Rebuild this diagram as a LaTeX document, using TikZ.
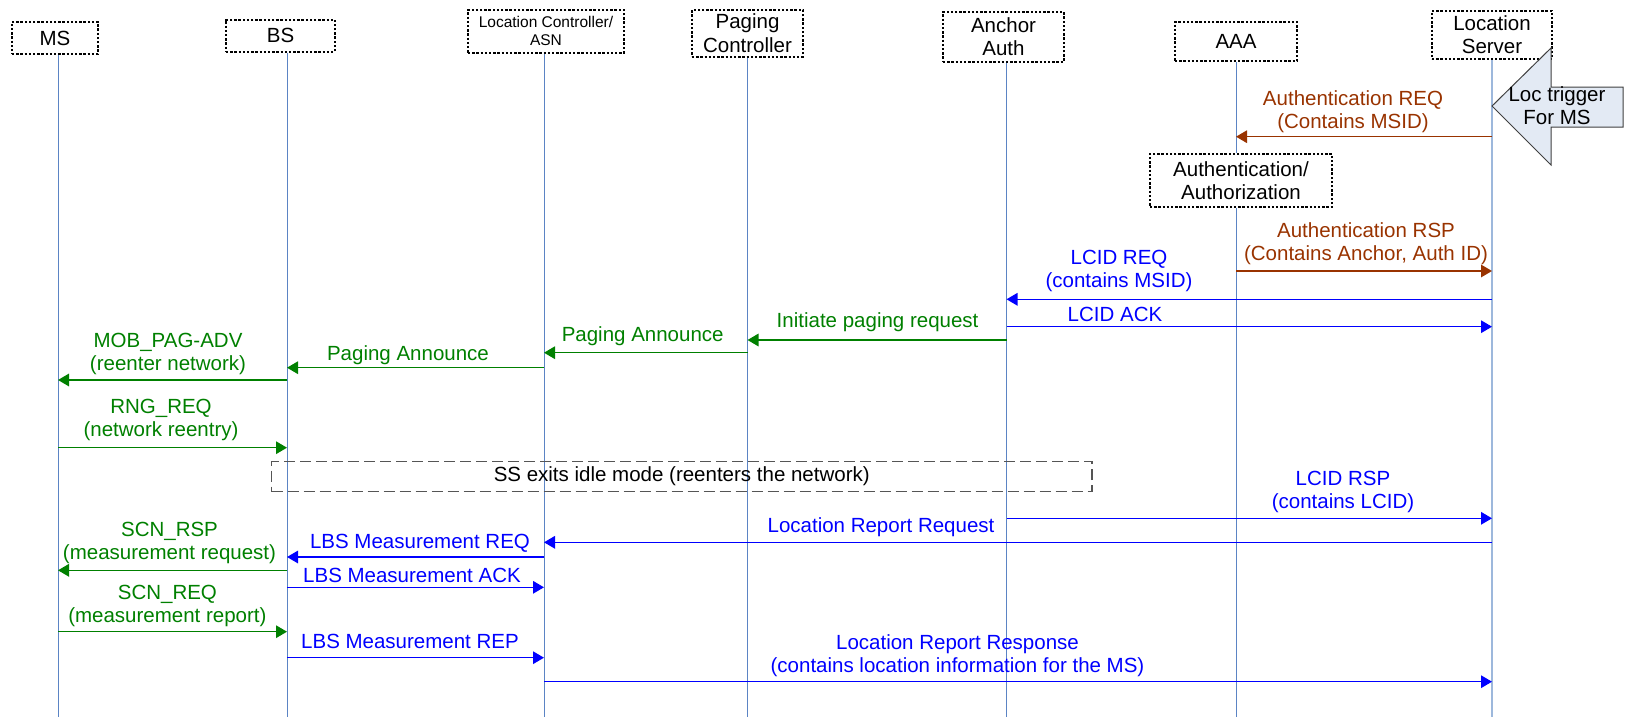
\documentclass[tikz,border=0pt]{standalone}
\usepackage{fontspec}
\setmainfont{Liberation Sans}
\usetikzlibrary{arrows.meta}
\definecolor{brn}{HTML}{993300}
\definecolor{grn}{HTML}{008000}
\definecolor{blu}{HTML}{0000FF}
\definecolor{lifec}{HTML}{5B84C4}
\definecolor{lifels}{HTML}{9DB8DC}
\definecolor{trig}{HTML}{E3EAF4}
\definecolor{dgray}{HTML}{555555}
\begin{document}
\begin{tikzpicture}[x=1pt,y=-1pt,
  actor/.style={draw=black, line width=2pt, dash pattern=on 2.4pt off 1.8pt, fill=white,
    inner sep=0pt, align=center, font=\fontsize{20.5}{23.3}\selectfont},
  lifeln/.style={draw=lifec, line width=1pt},
  msg/.style={line width=1.5pt, -{Triangle[length=11pt,width=12.5pt]}},
  lbl/.style={inner sep=0pt, align=center, font=\fontsize{20.5}{23.3}\selectfont},
]
\useasboundingbox (0,0) rectangle (1627,720);

% actors
\node[actor, minimum width=86pt, minimum height=32pt] (MS) at (55,38) {MS};
\node[actor, minimum width=109pt, minimum height=32pt] (BS) at (280.5,35.5) {BS};
\node[actor, minimum width=156pt, minimum height=42.5pt, font=\fontsize{15.5}{17.7}\selectfont] (LC) at (546,31.25) {Location Controller/\\ASN};
\node[actor, minimum width=111pt, minimum height=46.5pt] (PC) at (747.5,33.25) {Paging\\Controller};
\node[actor, minimum width=121pt, minimum height=49.5pt] (AA) at (1003.5,36.75) {Anchor\\Auth};
\node[actor, minimum width=122pt, minimum height=39pt] (AAA) at (1236,41.5) {AAA};
\node[actor, minimum width=120pt, minimum height=48pt] (LS) at (1492,35) {Location\\Server};
\node[actor, minimum width=182pt, minimum height=53pt] (Auth) at (1241,180.5) {Authentication/\\Authorization};

% lifeline ends
\coordinate (MSe) at (58,717);
\coordinate (BSe) at (287,717);
\coordinate (LCe) at (544,717);
\coordinate (PCe) at (747.5,717);
\coordinate (AAe) at (1006.5,717);
\coordinate (AAAe) at (1236,717);
\coordinate (LSe) at (1492,717);

\draw[lifeln] (MS.south -| MSe) -- (MSe);
\draw[lifeln] (BS.south -| BSe) -- (BSe);
\draw[lifeln] (LC.south -| LCe) -- (LCe);
\draw[lifeln] (PC.south -| PCe) -- (PCe);
\draw[lifeln] (AA.south -| AAe) -- (AAe);
\draw[lifeln] (AAA.south) -- (Auth.north -| AAAe);
\draw[lifeln] (Auth.south -| AAAe) -- (AAAe);
\draw[draw=lifels, line width=2.2pt] (LS.south) -- (LSe);

% Loc trigger block arrow
\draw[draw=black!75, fill=trig, line width=1pt] (1492,106) -- (1551,48) -- (1551,87) -- (1623,87)
  -- (1623,127) -- (1551,127) -- (1551,165) -- cycle;
\node[lbl] (trigtxt) at (1557,106) {Loc trigger\\For MS};

% idle mode box
\node[draw=dgray, dash pattern=on 11pt off 5pt, line width=1.5pt, minimum width=820.5pt,
  minimum height=30pt, inner sep=0pt, font=\fontsize{20.5}{23.3}\selectfont] (idle) at (681.75,476.5)
  {SS exits idle mode (reenters the network)};

% messages
\draw[msg, brn] (LSe |- 0,136.7) -- (AAAe |- 0,136.7);
\node[lbl, text=brn] (m1) at (1353,111.5) {Authentication REQ\\(Contains MSID)};

\draw[msg, brn] (AAAe |- 0,271) -- (LSe |- 0,271);
\node[lbl, text=brn] (m2) at (1366,243.5) {Authentication RSP\\(Contains Anchor, Auth ID)};

\draw[msg, blu] (LSe |- 0,299.3) -- (AAe |- 0,299.3);
\node[lbl, text=blu] (m3) at (1119,271) {LCID REQ\\(contains MSID)};

\draw[msg, blu] (AAe |- 0,326.7) -- (LSe |- 0,326.7);
\node[lbl, text=blu] (m4) at (1115,314) {LCID ACK};

\draw[msg, grn] (AAe |- 0,340) -- (PCe |- 0,340);
\node[lbl, text=grn] (m5) at (877.6,322) {Initiate paging request};

\draw[msg, grn] (PCe |- 0,352.7) -- (LCe |- 0,352.7);
\node[lbl, text=grn] (m6) at (642.7,336) {Paging Announce};

\draw[msg, grn] (LCe |- 0,367.7) -- (BSe |- 0,367.7);
\node[lbl, text=grn] (m7) at (408,355) {Paging Announce};

\draw[msg, grn] (BSe |- 0,380) -- (MSe |- 0,380);
\node[lbl, text=grn] (m8) at (168,354) {MOB\_PAG-ADV\\(reenter network)};

\draw[msg, grn] (MSe |- 0,447.7) -- (BSe |- 0,447.7);
\node[lbl, text=grn] (m9) at (161,420) {RNG\_REQ\\(network reentry)};

\draw[msg, blu] (AAe |- 0,518.3) -- (LSe |- 0,518.3);
\node[lbl, text=blu] (m10) at (1343,492) {LCID RSP\\(contains LCID)};

\draw[msg, blu] (LSe |- 0,542.3) -- (LCe |- 0,542.3);
\node[lbl, text=blu] (m11) at (881,527.5) {Location Report Request};

\draw[msg, blu] (LCe |- 0,557) -- (BSe |- 0,557);
\node[lbl, text=blu] (m12) at (420,543) {LBS Measurement REQ};

\draw[msg, grn] (BSe |- 0,570.3) -- (MSe |- 0,570.3);
\node[lbl, text=grn] (m13) at (169.5,543) {SCN\_RSP\\(measurement request)};

\draw[msg, blu] (BSe |- 0,587.3) -- (LCe |- 0,587.3);
\node[lbl, text=blu] (m14) at (412,575.5) {LBS Measurement ACK};

\draw[msg, grn] (MSe |- 0,631.7) -- (BSe |- 0,631.7);
\node[lbl, text=grn] (m15) at (167.4,606) {SCN\_REQ\\(measurement report)};

\draw[msg, blu] (BSe |- 0,657.7) -- (LCe |- 0,657.7);
\node[lbl, text=blu] (m16) at (410,641.5) {LBS Measurement REP};

\draw[msg, blu] (LCe |- 0,681.7) -- (LSe |- 0,681.7);
\node[lbl, text=blu] (m17) at (957.5,655.5) {Location Report Response\\(contains location information for the MS)};
\end{tikzpicture}
\end{document}
